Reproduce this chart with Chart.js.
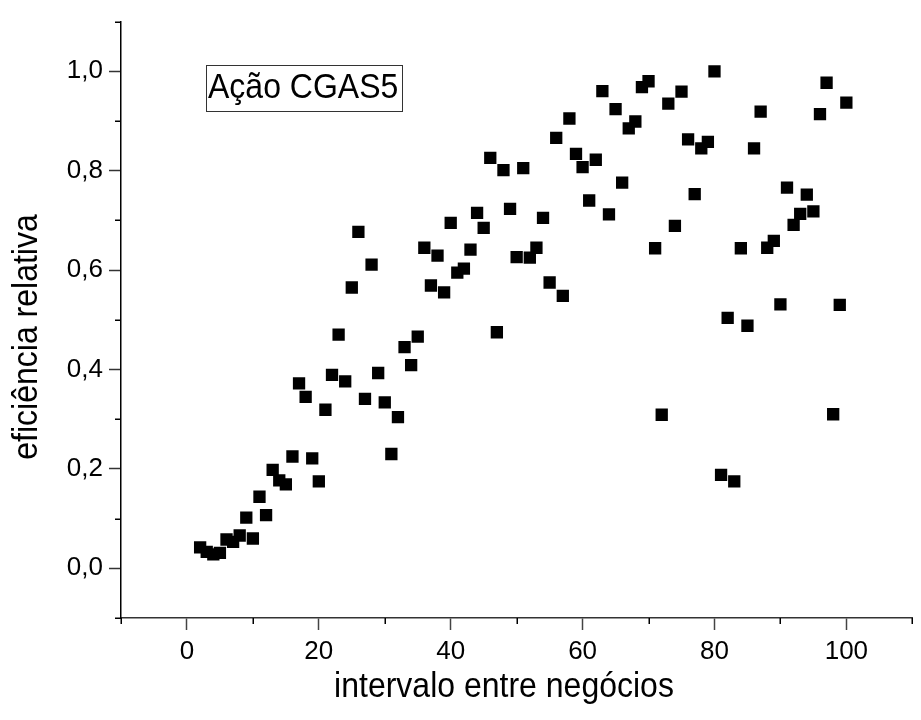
<!DOCTYPE html>
<html>
<head>
<meta charset="utf-8">
<script src="https://cdn.jsdelivr.net/npm/chart.js@4.4.1/dist/chart.umd.min.js"></script>
<style>
  body { margin: 0; background: #fff; }
  #eficienciacontainer { width: 921px; height: 720px; }
</style>
</head>
<body>
<div id="eficienciacontainer"><canvas id="eficienciachart" width="921" height="720"></canvas></div>
<script>
// intervalo entre negócios x eficiência relativa, ação CGAS5
var intervalos = [2, 3, 4, 5, 6, 7, 8, 9, 10, 11, 12, 13, 14, 15, 16, 17, 18, 19, 20,
  21, 22, 23, 24, 25, 26, 27, 28, 29, 30, 31, 32, 33, 34, 35, 36, 37, 38, 39, 40,
  41, 42, 43, 44, 45, 46, 47, 48, 49, 50, 51, 52, 53, 54, 55, 56, 57, 58, 59, 60,
  61, 62, 63, 64, 65, 66, 67, 68, 69, 70, 71, 72, 73, 74, 75, 76, 77, 78, 79, 80,
  81, 82, 83, 84, 85, 86, 87, 88, 89, 90, 91, 92, 93, 94, 95, 96, 97, 98, 99, 100];
var eficiencia = [0.042, 0.033, 0.028, 0.031, 0.058, 0.053, 0.066, 0.102, 0.060,
  0.144, 0.107, 0.198, 0.177, 0.169, 0.225, 0.372, 0.345, 0.221, 0.175,
  0.319, 0.389, 0.470, 0.376, 0.565, 0.677, 0.341, 0.611, 0.393, 0.334,
  0.230, 0.304, 0.445, 0.409, 0.466, 0.645, 0.569, 0.629, 0.555, 0.695,
  0.595, 0.603, 0.641, 0.715, 0.685, 0.826, 0.475, 0.801, 0.723, 0.626,
  0.805, 0.625, 0.645, 0.705, 0.575, 0.866, 0.548, 0.905, 0.834, 0.807,
  0.740, 0.822, 0.960, 0.712, 0.924, 0.776, 0.885, 0.899, 0.968, 0.980,
  0.644, 0.309, 0.935, 0.689, 0.959, 0.863, 0.753, 0.845, 0.858, 1.000,
  0.188, 0.504, 0.175, 0.644, 0.488, 0.845, 0.919, 0.645, 0.659, 0.531,
  0.766, 0.691, 0.713, 0.752, 0.718, 0.914, 0.977, 0.310, 0.530, 0.937];

var xTitulo = 'intervalo entre negócios';
var yTitulo = 'eficiência relativa';
var rotulo = 'Ação CGAS5';

var fonte = '"Liberation Sans", Arial, sans-serif';

var pontos = intervalos.map(function(x, i) {
  return { x: x, y: eficiencia[i] };
});

// major ticks every 20 (x) and 0.2 (y), minor ticks in between
var majorX = function(v) { return Math.round(v / 10) % 2 === 0; };
var majorY = function(v) { return Math.round(v * 10) % 2 === 0; };

// minor ticks, the text box and the axis titles
var extras = {
  id: 'extras',
  afterDraw: function(chart) {
    var ctx = chart.ctx, area = chart.chartArea;
    var xs = chart.scales.x, ys = chart.scales.y;
    ctx.save();
    ctx.lineWidth = 1.5;
    ctx.strokeStyle = '#000';
    ctx.beginPath();
    xs.ticks.forEach(function(t) {
      if (!majorX(t.value)) {
        var px = Math.round(xs.getPixelForValue(t.value)) + 0.25;
        ctx.moveTo(px, area.bottom);
        ctx.lineTo(px, area.bottom + 6);
      }
    });
    ys.ticks.forEach(function(t) {
      if (!majorY(t.value)) {
        var py = Math.round(ys.getPixelForValue(t.value)) + 0.25;
        ctx.moveTo(area.left - 6, py);
        ctx.lineTo(area.left, py);
      }
    });
    ctx.stroke();

    ctx.lineWidth = 1;
    ctx.strokeStyle = '#333';
    ctx.strokeRect(206.5, 65.5, 196, 46);

    ctx.fillStyle = '#000';
    ctx.font = '32px ' + fonte;

    // text a little taller than the plain font
    ctx.save();
    ctx.translate(208, 98);
    ctx.scale(1, 1.08);
    ctx.textAlign = 'left';
    ctx.textBaseline = 'alphabetic';
    ctx.fillText(rotulo, 0, 0);
    ctx.restore();

    ctx.textAlign = 'center';
    ctx.textBaseline = 'middle';
    ctx.save();
    ctx.translate(504, 687);
    ctx.scale(1, 1.08);
    ctx.fillText(xTitulo, 0, 0);
    ctx.restore();

    ctx.save();
    ctx.translate(27, 337);
    ctx.rotate(-Math.PI / 2);
    ctx.scale(1, 1.08);
    ctx.fillText(yTitulo, 0, 0);
    ctx.restore();
    ctx.restore();
  }
};

var ctxe = document.getElementById('eficienciachart').getContext('2d');
var eficienciachart = new Chart(ctxe, {
  type: 'scatter',
  data: {
    datasets: [{
      data: pontos,
      pointStyle: 'rect',
      pointRadius: 8.7,
      pointHoverRadius: 8.7,
      backgroundColor: '#000',
      borderWidth: 0
    }]
  },
  options: {
    responsive: false,
    animation: false,
    layout: { padding: { top: 12, right: 2, left: 0, bottom: 0 } },
    plugins: { legend: { display: false }, tooltip: { enabled: false } },
    scales: {
      x: {
        type: 'linear',
        min: -10,
        max: 110,
        afterFit: function(scale) { scale.height = 102; },
        border: { display: true, color: '#333', width: 1.5 },
        grid: {
          drawOnChartArea: false,
          drawTicks: true,
          tickLength: 12,
          tickWidth: 1.5,
          tickColor: function(c) { return majorX(c.tick.value) ? '#444' : 'rgba(0,0,0,0)'; }
        },
        ticks: {
          stepSize: 10,
          padding: 6,
          color: '#000',
          maxRotation: 0,
          autoSkip: false,
          font: { family: fonte, size: 26 },
          callback: function(v) { return majorX(v) ? String(v) : ''; }
        }
      },
      y: {
        type: 'linear',
        min: -0.1,
        max: 1.1,
        afterFit: function(scale) { scale.width = 121; },
        border: { display: true, color: '#000', width: 1.5 },
        grid: {
          drawOnChartArea: false,
          drawTicks: true,
          tickLength: 12,
          tickWidth: 1.5,
          tickColor: function(c) { return majorY(c.tick.value) ? '#333' : 'rgba(0,0,0,0)'; }
        },
        ticks: {
          stepSize: 0.1,
          padding: 6,
          color: '#000',
          autoSkip: false,
          font: { family: fonte, size: 26 },
          callback: function(v) { return majorY(v) ? v.toFixed(1).replace('.', ',') : ''; }
        }
      }
    }
  },
  plugins: [extras]
});
</script>
</body>
</html>
